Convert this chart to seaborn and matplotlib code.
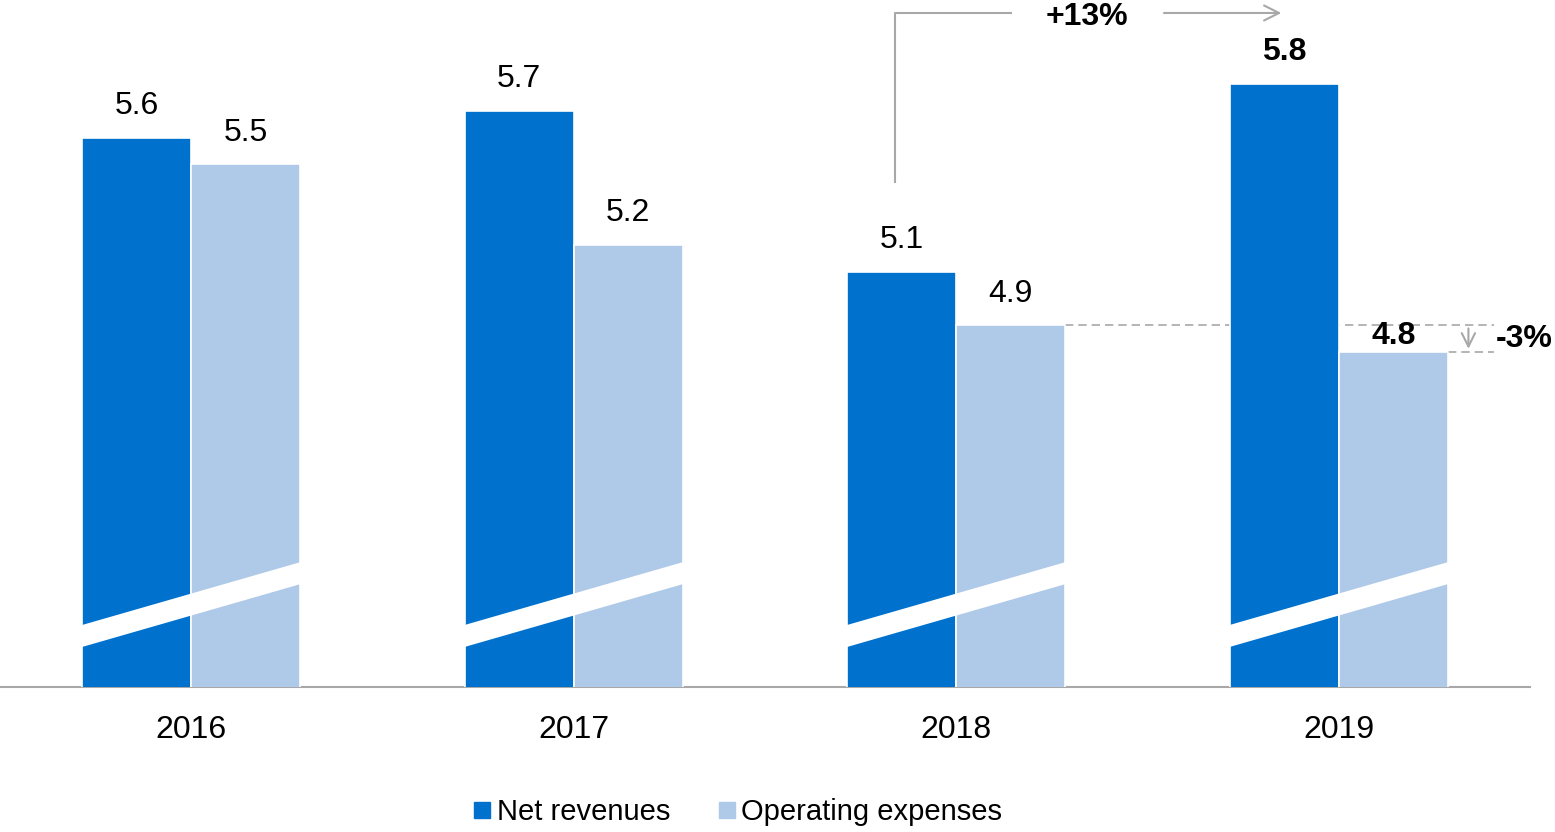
import matplotlib
matplotlib.use("Agg")
import matplotlib.pyplot as plt
from matplotlib.lines import Line2D
from matplotlib.patches import Polygon
import seaborn as sns
import pandas as pd

years = ["2016", "2017", "2018", "2019"]
net_revenues = [5.6, 5.7, 5.1, 5.8]
operating_expenses = [5.5, 5.2, 4.9, 4.8]
series_names = ["Net revenues", "Operating expenses"]
growth_label = "+13%"
cost_label = "-3%"

BLUE = "#0072CE"
LIGHT = "#AFC9E8"
GREY = "#A8A8A8"

sns.set_theme(style="white")
plt.rcParams["font.family"] = ["Liberation Sans", "DejaVu Sans"]

df = pd.DataFrame({
    "year": years * 2,
    "value": net_revenues + operating_expenses,
    "series": [series_names[0]] * 4 + [series_names[1]] * 4,
})

fig = plt.figure(figsize=(15.55, 8.32), dpi=100)
ax = fig.add_axes([0.0, 145 / 832, 1530 / 1555, 687 / 832])

sns.barplot(data=df, x="year", y="value", hue="series", palette=[BLUE, LIGHT],
            saturation=1, width=0.57, edgecolor="white", linewidth=1.2,
            legend=False, errorbar=None, ax=ax, zorder=3)

ax.set_xlim(-0.5, 3.5)
ax.set_ylim(3.55, 3.55 + 687 / 268)

# value labels above each bar
bw = 0.285
for i, (nr, oe) in enumerate(zip(net_revenues, operating_expenses)):
    last = i == len(years) - 1
    weight = "bold" if last else "normal"
    for x, v, off in ((i - bw / 2, nr, 12), (i + bw / 2, oe, 1 if last else 12)):
        ax.annotate(f"{v:.1f}", (x, v), xytext=(0, off), textcoords="offset points",
                    ha="center", va="bottom", fontsize=23, fontweight=weight,
                    color="black", zorder=5)

# broken-axis stripe across each pair of bars
tr = ax.get_xaxis_transform()
for i in range(len(years)):
    x0, x1 = i - 0.29, i + 0.29
    stripe = Polygon([(x0, 0.0575), (x1, 0.1505), (x1, 0.1825), (x0, 0.0895)],
                     closed=True, facecolor="white", edgecolor="none",
                     transform=tr, zorder=4)
    ax.add_patch(stripe)

# revenue growth bracket 2018 -> 2019
ax.plot([1.841, 1.841, 2.146], [5.43, 6.065, 6.065], color=GREY, lw=1.5,
        zorder=2, clip_on=False, solid_capstyle="butt")
ax.text(2.342, 6.05, growth_label, ha="center", va="center", fontsize=23,
        fontweight="bold", color="black", clip_on=False)
ax.annotate("", xy=(2.85, 6.065), xytext=(2.543, 6.065),
            arrowprops=dict(arrowstyle="->,head_length=0.9,head_width=0.45",
                            color=GREY, lw=1.5, shrinkA=0, shrinkB=0))

# operating expense change markers
ax.plot([2 + bw, 3.405], [operating_expenses[2]] * 2, color=GREY, lw=1.2,
        ls=(0, (5, 3)), zorder=1)
ax.plot([3 + bw, 3.405], [operating_expenses[3]] * 2, color=GREY, lw=1.2,
        ls=(0, (5, 3)), zorder=1)
ax.annotate("", xy=(3.339, operating_expenses[3] + 0.012),
            xytext=(3.339, operating_expenses[2] - 0.012),
            arrowprops=dict(arrowstyle="->,head_length=0.8,head_width=0.4",
                            color=GREY, lw=1.5, shrinkA=0, shrinkB=0))
ax.text(3.41, 4.85, cost_label, ha="left", va="center", fontsize=23,
        fontweight="bold", color="black", clip_on=False)

# axes styling
for side in ("left", "right", "top"):
    ax.spines[side].set_visible(False)
ax.spines["bottom"].set_color(GREY)
ax.spines["bottom"].set_linewidth(1.5)
ax.set_yticks([])
ax.set_xlabel("")
ax.set_ylabel("")
ax.tick_params(axis="x", length=0, pad=20, labelsize=23, labelcolor="black")

handles = [Line2D([], [], marker="s", ls="none", markersize=11,
                  markerfacecolor=c, markeredgecolor=c) for c in (BLUE, LIGHT)]
fig.legend(handles, series_names, loc="center", bbox_to_anchor=(0.474, 0.024),
           ncol=2, frameon=False, fontsize=21, handletextpad=0.15,
           columnspacing=1.6, handlelength=0.7, borderpad=0, labelcolor="black")

fig.savefig("out.png", dpi=100, facecolor="white")
